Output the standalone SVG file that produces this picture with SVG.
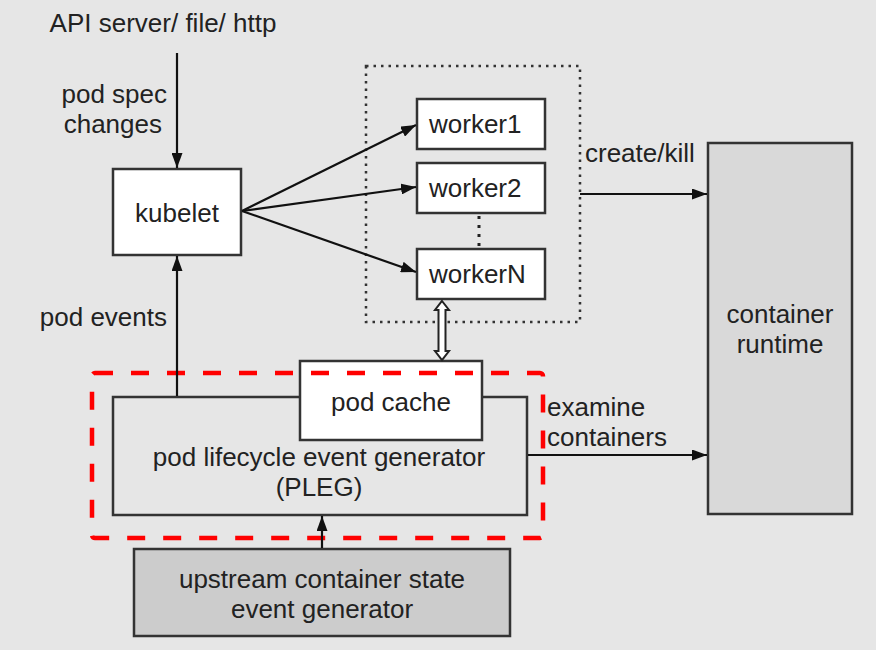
<svg xmlns="http://www.w3.org/2000/svg" width="876" height="650" viewBox="0 0 876 650">
<defs>
<marker id="ah" viewBox="0 0 15 11" refX="15" refY="5.5" markerWidth="15" markerHeight="11" markerUnits="userSpaceOnUse" orient="auto">
<path d="M0,0 L15,5.5 L0,11 Z" fill="#111"/>
</marker>
</defs>
<style>
text{font-family:"Liberation Sans",Arial,sans-serif;font-size:26px;fill:#222}
.box{stroke:#333;stroke-width:2.5}
.w{fill:#fff}
.c{stroke:#111;stroke-width:2.2;fill:none;marker-end:url(#ah)}
.m{text-anchor:middle}
.e{text-anchor:end}
</style>
<rect width="876" height="650" fill="#e6e6e6"/>
<text x="163" y="32" class="m">API server/ file/ http</text>
<text x="167" y="103" class="e">pod spec</text>
<text x="162" y="133" class="e">changes</text>
<text x="167" y="326" class="e">pod events</text>
<text x="585" y="162">create/kill</text>
<text x="547" y="416">examine</text>
<text x="547" y="446">containers</text>
<g id="workers-group">
<rect x="366" y="66" width="214" height="256" fill="none" stroke="#333" stroke-width="2.5" stroke-dasharray="2.5 5"/>
<line x1="479" y1="216" x2="479" y2="248" stroke="#222" stroke-width="3" stroke-dasharray="3 6"/>
</g>
<g id="kubelet">
<rect x="113" y="169" width="128" height="86" class="box w"/>
<text x="177" y="222" class="m">kubelet</text>
</g>
<g id="worker1">
<rect x="417" y="99" width="128" height="50" class="box w"/>
<text x="429" y="133">worker1</text>
</g>
<g id="worker2">
<rect x="417" y="163" width="128" height="50" class="box w"/>
<text x="429" y="197">worker2</text>
</g>
<g id="workerN">
<rect x="417" y="249" width="128" height="50" class="box w"/>
<text x="429" y="283">workerN</text>
</g>
<g id="pleg">
<rect x="113" y="397" width="414" height="118" class="box" fill="#e6e6e6"/>
<text x="319" y="466" class="m">pod lifecycle event generator</text>
<text x="319" y="496" class="m">(PLEG)</text>
</g>
<g id="pod-cache">
<rect x="300" y="361" width="182" height="79" class="box w"/>
<text x="391" y="411" class="m">pod cache</text>
</g>
<g id="pleg-boundary">
<rect x="92" y="373" width="451" height="165" rx="3" fill="none" stroke="#ff0000" stroke-width="4.5" stroke-dasharray="18 18"/>
</g>
<g id="upstream">
<rect x="134" y="549" width="376" height="87" class="box" fill="#cccccc"/>
<text x="322" y="588" class="m">upstream container state</text>
<text x="322" y="618" class="m">event generator</text>
</g>
<g id="container-runtime">
<rect x="708" y="143" width="144" height="371" class="box" fill="#d9d9d9"/>
<text x="780" y="323" class="m">container</text>
<text x="780" y="353" class="m">runtime</text>
</g>
<g id="connectors">
<line x1="177" y1="53" x2="177" y2="168" class="c"/>
<line x1="177" y1="396" x2="177" y2="256" class="c"/>
<line x1="242" y1="211" x2="416" y2="125" class="c"/>
<line x1="242" y1="211" x2="416" y2="187" class="c"/>
<line x1="242" y1="211" x2="416" y2="272" class="c"/>
<line x1="580" y1="194" x2="707" y2="194" class="c"/>
<line x1="528" y1="455" x2="707" y2="455" class="c"/>
<line x1="322" y1="548" x2="322" y2="516" class="c"/>
<path d="M442,301 L449,310 L445.5,310 L445.5,351 L449,351 L442,360 L435,351 L438.5,351 L438.5,310 L435,310 Z" fill="#fff" stroke="#222" stroke-width="2"/>
</g>
</svg>
